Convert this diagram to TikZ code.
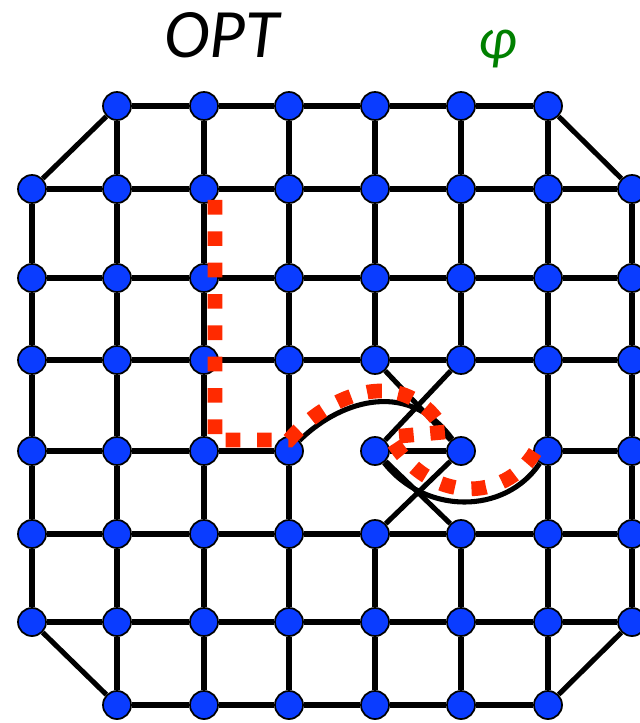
\documentclass[tikz,border=0pt]{standalone}
\usepackage{fontspec}
\setmainfont{Carlito}
\usetikzlibrary{backgrounds}
\definecolor{blue1}{HTML}{0A3CFF}
\definecolor{red1}{HTML}{FF2A00}
\definecolor{green1}{HTML}{008000}

\begin{document}
\begin{tikzpicture}[x=0.75pt,y=-0.75pt,
  vertex/.style={circle,fill=blue1,draw=black,line width=1.3pt,minimum size=21pt,inner sep=0pt},
  edge/.style={line width=3.8pt,black},
  route/.style={red1,line width=11pt,dash pattern=on 11pt off 12.5pt}]
  \useasboundingbox (0,0) rectangle (639,723);
  % labels
  \node[font=\fontsize{52}{52}\selectfont\itshape] (opt) at (222,35) {OPT};
  \node[font=\fontsize{44}{44}\selectfont\itshape,color=green1] (phi) at (498,49) {φ};
  % vertices
  \foreach \ry [count=\rr from 1] in {189,278,360,451,534,622}
    \foreach \cx [count=\cc from 0] in {32,117,204,289,375,461,548,632}
      \node[vertex] (v-\cc-\rr) at (\cx,\ry) {};
  \foreach \ry/\rr in {106/0,705/7}
    \foreach \cx [count=\cc from 1] in {117,204,289,375,461,548}
      \node[vertex] (v-\cc-\rr) at (\cx,\ry) {};
  \begin{scope}[on background layer]
    % rows
    \foreach \rr in {1,2,3,5,6}
      \foreach \cc in {1,...,7}{
        \pgfmathtruncatemacro{\pc}{\cc-1}
        \draw[edge] (v-\pc-\rr) -- (v-\cc-\rr);
      }
    \foreach \pc/\cc in {0/1,1/2,2/3,4/5,6/7}
      \draw[edge] (v-\pc-4) -- (v-\cc-4);
    \foreach \rr in {0,7}
      \foreach \cc in {2,...,6}{
        \pgfmathtruncatemacro{\pc}{\cc-1}
        \draw[edge] (v-\pc-\rr) -- (v-\cc-\rr);
      }
    % columns
    \foreach \cc in {1,2,3,6}
      \foreach \rr in {1,...,7}{
        \pgfmathtruncatemacro{\pr}{\rr-1}
        \draw[edge] (v-\cc-\pr) -- (v-\cc-\rr);
      }
    \foreach \cc in {4,5}
      \foreach \pr/\rr in {0/1,1/2,2/3,5/6,6/7}
        \draw[edge] (v-\cc-\pr) -- (v-\cc-\rr);
    \foreach \cc in {0,7}
      \foreach \rr in {2,...,6}{
        \pgfmathtruncatemacro{\pr}{\rr-1}
        \draw[edge] (v-\cc-\pr) -- (v-\cc-\rr);
      }
    % corners
    \draw[edge] (v-1-0) -- (v-0-1);
    \draw[edge] (v-6-0) -- (v-7-1);
    \draw[edge] (v-0-6) -- (v-1-7);
    \draw[edge] (v-7-6) -- (v-6-7);
    % twist
    \draw[edge] (v-4-3) -- (v-5-4);
    \draw[edge] (v-5-3) -- (v-4-4);
    \draw[edge] (v-4-4) -- (v-5-5);
    \draw[edge] (v-5-4) -- (v-4-5);
    \draw[edge] (v-3-4) .. controls (335,405) and (405,375) .. (v-5-4);
    \draw[edge] (v-4-4) .. controls (425,515) and (505,515) .. (v-6-4);
  \end{scope}
  % image of the path
  \draw[route] (215,200) -- (215,440) -- (289,440)
    .. controls (330,393) and (405,362) .. (445,432) -- (390,437)
    .. controls (428,505) and (505,502) .. (535,452);
\end{tikzpicture}
\end{document}
